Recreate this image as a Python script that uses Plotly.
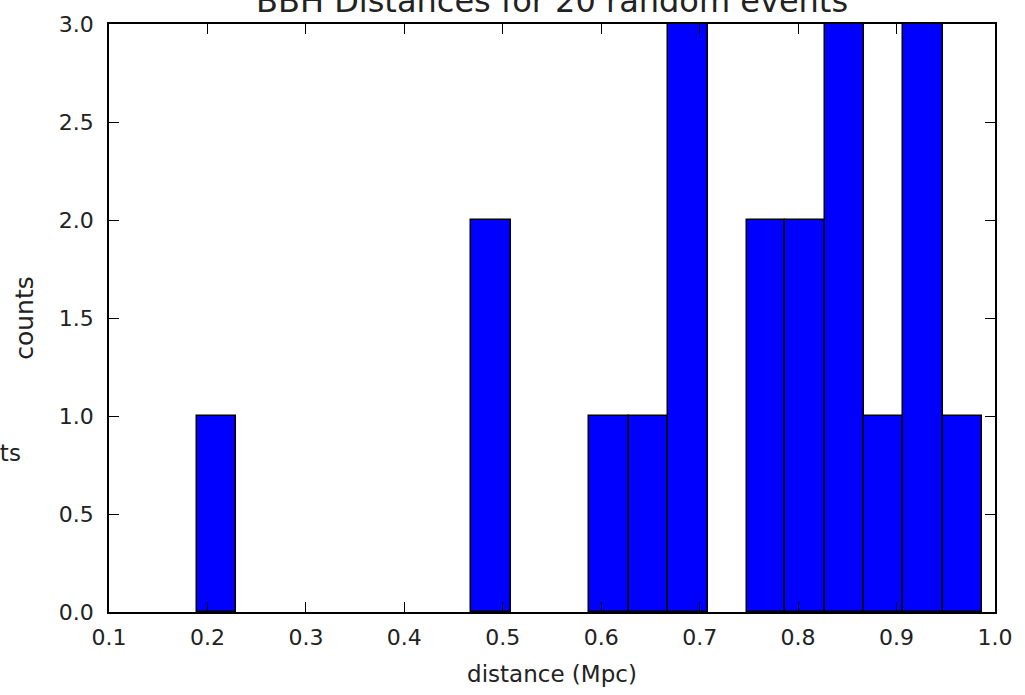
import plotly.graph_objects as go

# Histogram data
bin_edges = [0.189, 0.229, 0.269, 0.309, 0.349, 0.389, 0.428, 0.468, 0.508, 0.548,
             0.588, 0.628, 0.668, 0.708, 0.748, 0.787, 0.827, 0.867, 0.907, 0.947, 0.987]
counts = [1, 0, 0, 0, 0, 0, 0, 2, 0, 0, 1, 1, 3, 0, 2, 2, 3, 1, 3, 1]

x_ticks = [0.1, 0.2, 0.3, 0.4, 0.5, 0.6, 0.7, 0.8, 0.9, 1.0]
y_ticks = [0.0, 0.5, 1.0, 1.5, 2.0, 2.5, 3.0]

title_text = "BBH Distances for 20 random events"
x_label = "distance (Mpc)"
y_label = "counts"

idx = [i for i in range(len(counts)) if counts[i] > 0]
centers = [(bin_edges[i] + bin_edges[i + 1]) / 2 for i in idx]
widths = [bin_edges[i + 1] - bin_edges[i] for i in idx]
heights = [counts[i] for i in idx]

FONT = "DejaVu Sans"
TXT = "#222222"

fig = go.Figure()
fig.add_trace(go.Bar(
    x=centers, y=heights, width=widths,
    marker=dict(color="#0000ff", line=dict(color="black", width=1.5)),
    hoverinfo="skip",
))

W, H = 1025, 695
L, R, T, B = 109, 22, 23, 78

axis_common = dict(
    showline=True, linecolor="black", linewidth=1.5, mirror="ticks",
    ticks="inside", ticklen=10, tickwidth=1, tickcolor="black",
    showgrid=False, zeroline=False,
    tickfont=dict(family=FONT, size=22, color=TXT),
)

fig.update_layout(
    width=W, height=H,
    margin=dict(l=L, r=R, t=T, b=B, pad=0),
    plot_bgcolor="white", paper_bgcolor="white",
    showlegend=False,
    bargap=0,
    xaxis=dict(
        range=[0.1, 1.0], tickvals=x_ticks,
        ticktext=[f"{v:.1f}" for v in x_ticks],
        ticklabelstandoff=5,
        title=dict(text=x_label, font=dict(family=FONT, size=23, color=TXT), standoff=17),
        **axis_common,
    ),
    yaxis=dict(
        range=[0, 3.0], tickvals=y_ticks,
        ticktext=[f"{v:.1f}" for v in y_ticks],
        ticklabelstandoff=9,
        title=dict(text=y_label, font=dict(family=FONT, size=25, color=TXT), standoff=18),
        **axis_common,
    ),
)

pw = W - L - R
ph = H - T - B
# title (partly cut off at the top in the reference)
fig.add_annotation(
    text=title_text, xref="paper", yref="paper", x=0.5, y=1.0,
    xanchor="center", yanchor="bottom", yshift=2, showarrow=False,
    font=dict(family=FONT, size=32, color=TXT),
)
# stray cut-off label at the far left edge
fig.add_annotation(
    text=y_label, xref="paper", yref="paper",
    x=(22 - L) / pw, y=(H - B - 456) / ph,
    xanchor="right", yanchor="middle", showarrow=False,
    font=dict(family=FONT, size=23, color=TXT),
)

fig.write_html("out.html")
